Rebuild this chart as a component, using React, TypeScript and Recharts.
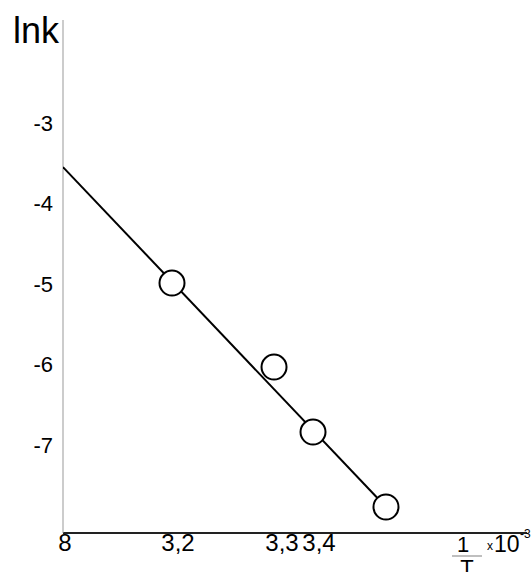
import { Scatter, ScatterChart, XAxis, YAxis } from "recharts";

// 1/T (×10^-3) and ln k
const pointX = [3.1915, 3.3362, 3.3915, 3.495];
const pointY = [-4.988, -6.031, -6.839, -7.77];

// fitted straight line, start and end
const fitX = [3.0369, 3.495];
const fitY = [-3.547, -7.77];

const xTicks = [3.0397, 3.2, 3.3475, 3.4];
const xTickLabels = ["8", "3,2", "3,3", "3,4"];
const yTicks = [-3, -4, -5, -6, -7];

const points = pointX.map((x, i) => ({ x, y: pointY[i] }));
const fitLine = fitX.map((x, i) => ({ x, y: fitY[i] }));

const font = "'Liberation Sans', Arial, sans-serif";

function Ring({ cx, cy }: { cx?: number; cy?: number }) {
  if (cx == null || cy == null) return <g />;
  return <circle cx={cx} cy={cy} r={12.5} fill="#fff" stroke="#000" strokeWidth={2} />;
}

export default function App() {
  return (
    <div style={{ position: "absolute", left: 0, top: 0, width: 532, height: 572, background: "#fff", overflow: "hidden" }}>
      <ScatterChart width={532} height={572} margin={{ top: 20, right: 5, bottom: 0, left: 0 }}>
        <XAxis
          type="number"
          dataKey="x"
          domain={[3.0369, 3.695]}
          allowDataOverflow
          ticks={xTicks}
          tickFormatter={(v: number) => xTickLabels[xTicks.indexOf(v)] ?? ""}
          interval={0}
          height={39}
          tickLine={false}
          tickSize={0}
          tickMargin={1}
          axisLine={{ stroke: "#222", strokeWidth: 2 }}
          tick={{ fontSize: 24, fill: "#000", fontFamily: font }}
        />
        <YAxis
          type="number"
          dataKey="y"
          domain={[-8.093, -1.72]}
          allowDataOverflow
          ticks={yTicks}
          interval={0}
          width={63}
          tickLine={false}
          tickSize={0}
          tickMargin={10}
          axisLine={{ stroke: "#999", strokeWidth: 1 }}
          tick={{ fontSize: 22, fill: "#000", fontFamily: font }}
        />
        <Scatter
          data={fitLine}
          line={{ stroke: "#000", strokeWidth: 2 }}
          shape={() => <g />}
          isAnimationActive={false}
        />
        <Scatter data={points} shape={<Ring />} isAnimationActive={false} />
      </ScatterChart>
      <svg
        width={532}
        height={572}
        style={{ position: "absolute", left: 0, top: 0, pointerEvents: "none" }}
        fontFamily={font}
      >
        <text x={13} y={43} fontSize={36} fill="#000">
          lnk
        </text>
        <text x={463} y={552} fontSize={22} fill="#000" textAnchor="middle">
          1
        </text>
        <line x1={452} x2={482} y1={556} y2={556} stroke="#aaa" strokeWidth={1.5} />
        <text x={467} y={575} fontSize={22} fill="#000" textAnchor="middle">
          T
        </text>
        <text x={487} y={550} fontSize={12} fill="#000">
          x
        </text>
        <text x={494} y={552} fontSize={23} fill="#000">
          10
        </text>
        <text x={520} y={538} fontSize={12} fill="#000">
          -3
        </text>
      </svg>
    </div>
  );
}
